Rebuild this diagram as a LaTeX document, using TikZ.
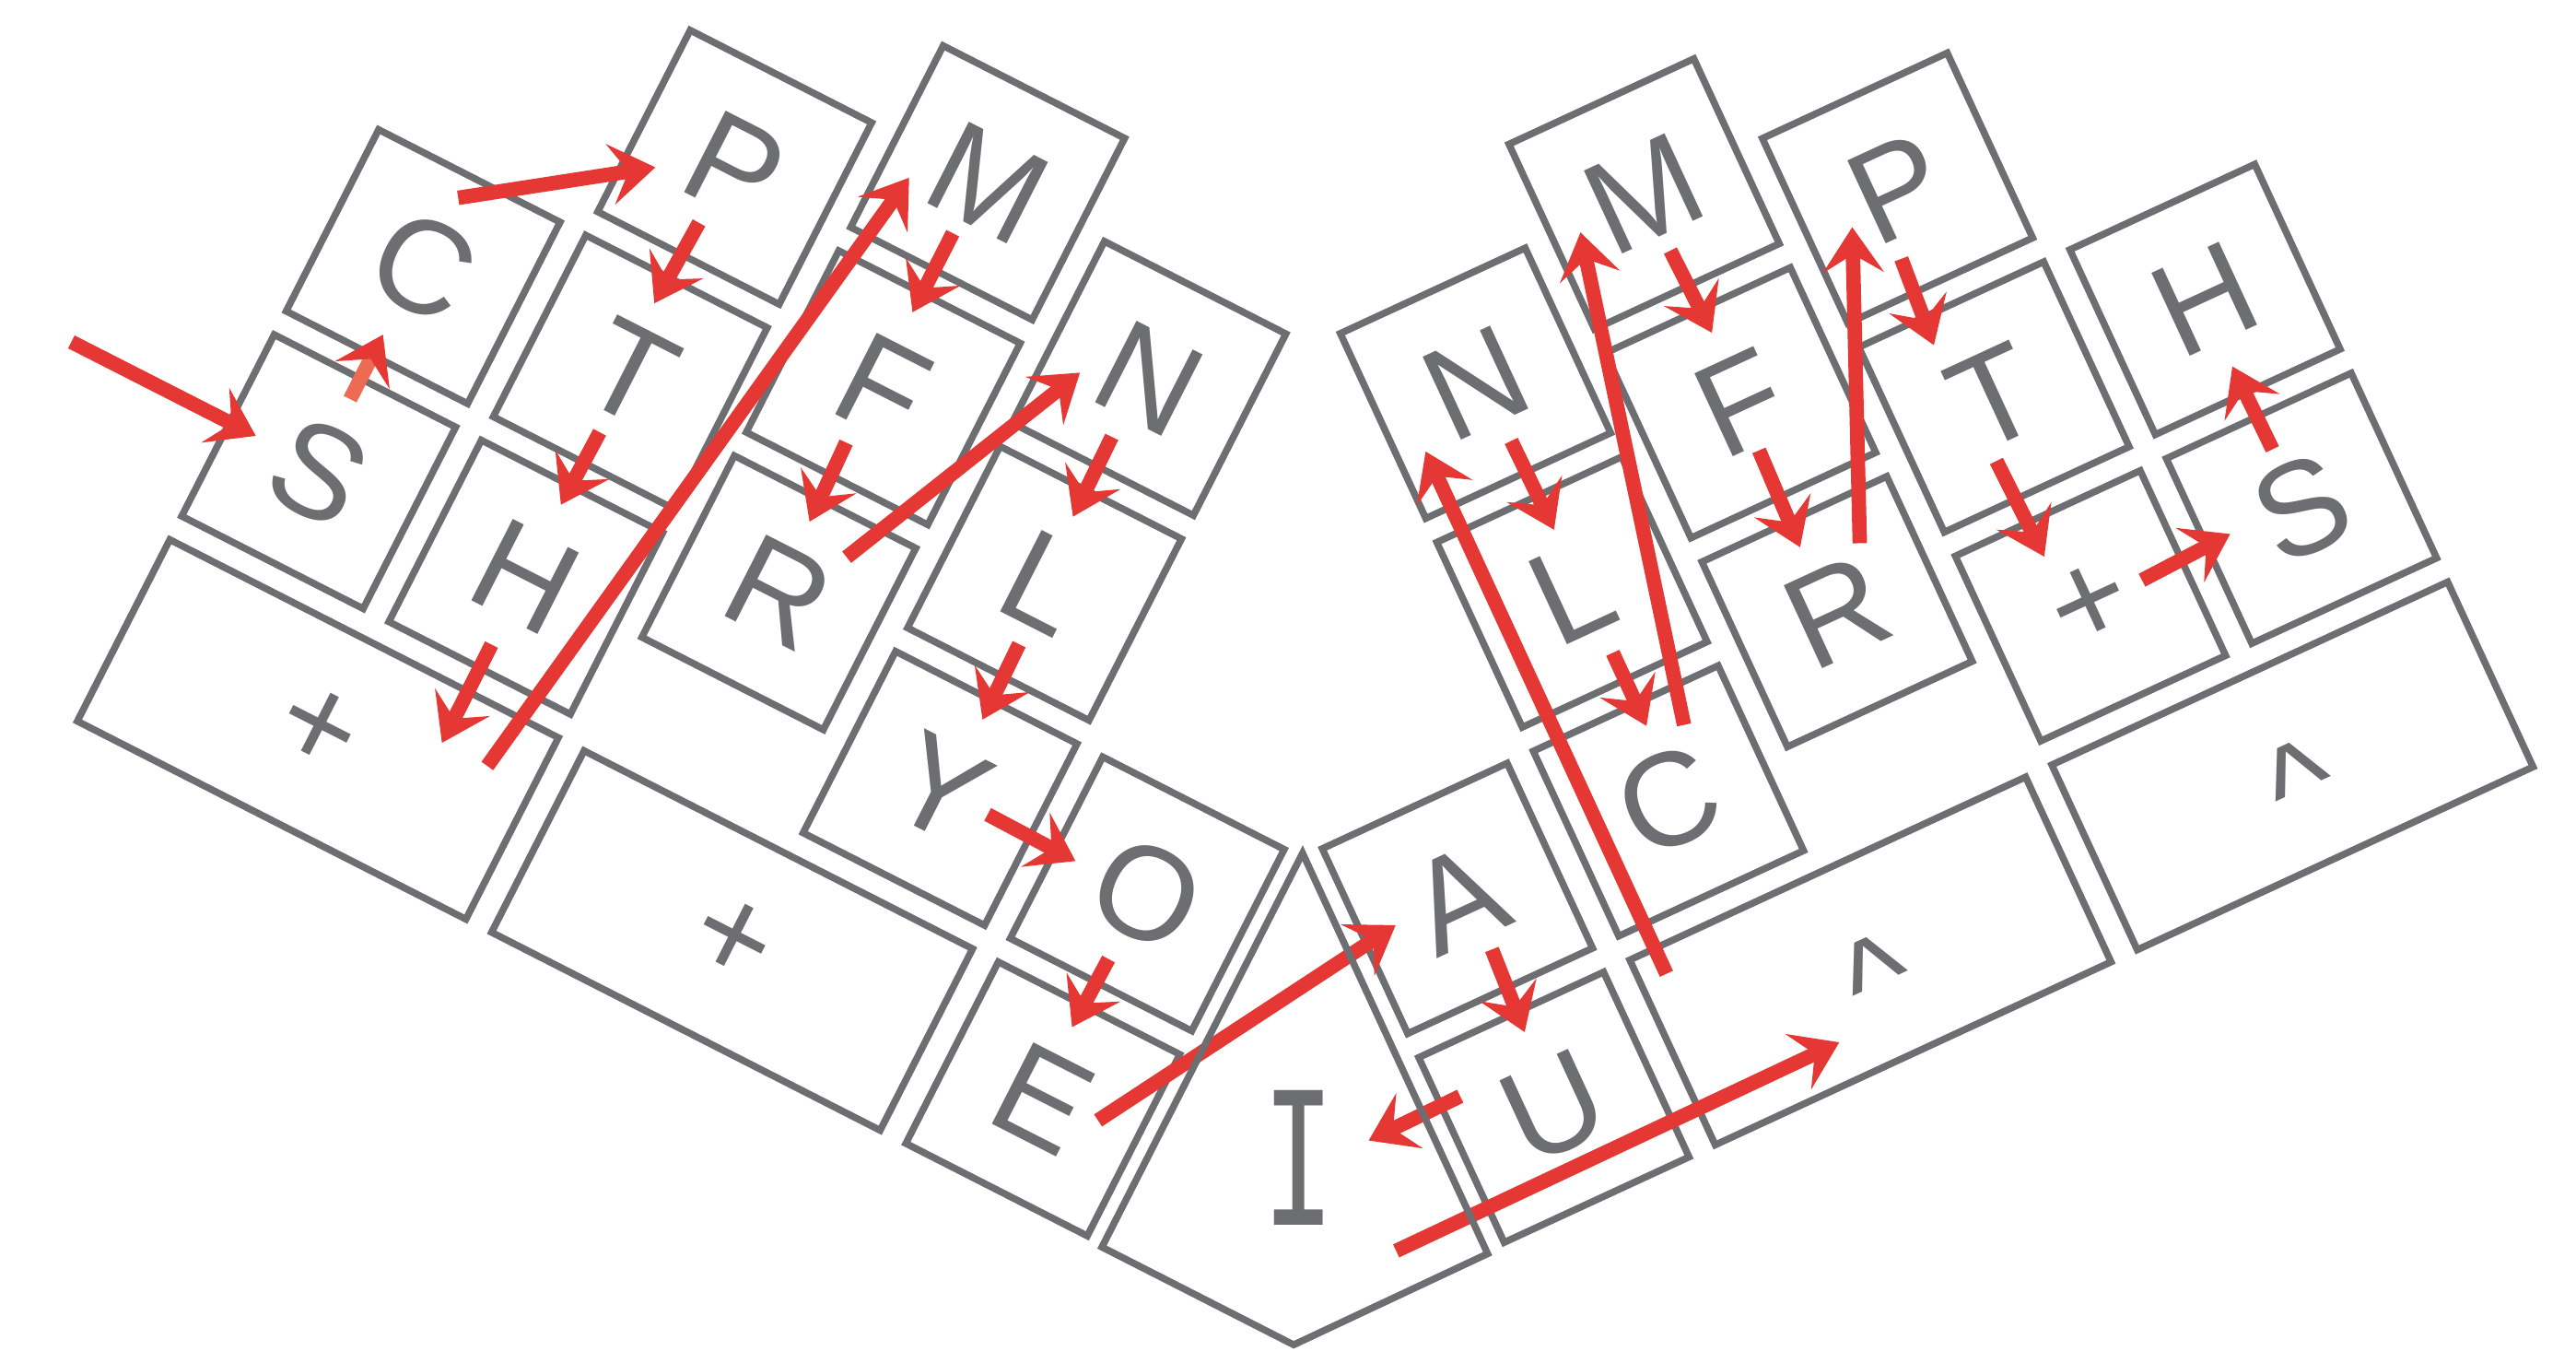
\documentclass[tikz,border=0pt]{standalone}
\usepackage{fontspec}
\setmainfont{Liberation Sans}
\newfontfamily\keymono{DejaVu Sans Mono}
\usetikzlibrary{arrows.meta,calc}
\definecolor{keygray}{RGB}{109,110,113}
\definecolor{keyred}{RGB}{229,55,51}
\definecolor{keysalmon}{RGB}{236,107,82}
\begin{document}
\begin{tikzpicture}[
x=0.02cm, y=0.02cm,
key/.style={
draw=keygray,
line width=2.4pt,
minimum width=2.48cm,
minimum height=2.48cm,
inner sep=0pt,
text=keygray,
font=\fontsize{46}{50}\selectfont
},
widekey/.style={key, minimum width=5.31cm},
arr/.style={
draw=keyred,
line width=5pt,
-{Stealth[length=0.55cm,width=0.74cm,inset=0.22cm,color=keyred]}
}
]
\useasboundingbox (0,0) rectangle (1568,-829);

\begin{scope}[shift={(194,-287)}, rotate=-27, transform shape]
\node[key] (lS) at (0,0) {S};
\node[key] (lC) at (0,140) {C};
\node[key] (lH) at (141.5,0) {H};
\node[key] (lT) at (141.5,140) {T};
\node[key] (lP) at (141.5,280) {P};
\node[key] (lR) at (283,61.5) {R};
\node[key] (lF) at (283,201.5) {F};
\node[key] (lM) at (283,341.5) {M};
\node[key] (lY) at (424.5,0) {Y};
\node[key] (lL) at (424.5,140) {L};
\node[key] (lN) at (424.5,280) {N};
\node[key] (lO) at (566,0) {O};
\node[key] (lE) at (566,-140) {E};
\node[widekey] (lplus1) at (70.75,-140) {+};
\node[widekey] (lplus2) at (353.75,-140) {+};
\coordinate (Ileft) at (639,-204);
\coordinate (Ileftup) at (639,100);
\coordinate (Ibot) at (770,-204);

\draw[arr] ($(lS)+(-170,2)$) -- ($(lS)+(-44,2)$);
\draw[arr, draw=keysalmon] ($(lS)+(-3,48)$) -- ($(lC)+(-3,-48)$);
\draw[arr] ($(lC)+(0,47)$) -- ($(lP)+(-43,-22)$);
\draw[arr] ($(lP)+(-4,-40)$) -- ($(lT)+(-6,44)$);
\draw[arr] ($(lT)+(0,-41)$) -- ($(lH)+(-1,49)$);
\draw[arr] ($(lH)+(0,-46)$) -- ($(lplus1)+(71,27)$);
\draw[arr] ($(lplus1)+(102,27)$) -- ($(lM)+(-44,-19)$);
\draw[arr] ($(lM)+(-5,-37)$) -- ($(lF)+(-5,49)$);
\draw[arr] ($(lF)+(-5,-40)$) -- ($(lR)+(-3,47)$);
\draw[arr] ($(lR)+(27,38)$) -- ($(lN)+(-39,-16)$);
\draw[arr] ($(lN)+(-4,-42)$) -- ($(lL)+(-3,44)$);
\draw[arr] ($(lL)+(3,-40)$) -- ($(lY)+(4,49)$);
\draw[arr] ($(lY)+(33,-1)$) -- ($(lO)+(-48,-2)$);
\draw[arr] ($(lO)+(-3,-46)$) -- ($(lE)+(-4,47)$);
\end{scope}

\node[text=keygray, font=\keymono\fontsize{64}{70}\selectfont] (I) at (790.7,-704.8) {\scalebox{0.65}[1]{I}};

\begin{scope}[shift={(1400.9,-309.3)}, rotate=24.8, transform shape]
\node[key] (rS) at (0,0) {S};
\node[key] (rH) at (0,140) {H};
\node[key] (rplus) at (-141.5,0) {+};
\node[key] (rT) at (-141.5,140) {T};
\node[key] (rP) at (-141.5,280) {P};
\node[key] (rR) at (-283,61.5) {R};
\node[key] (rF) at (-283,201.5) {F};
\node[key] (rM) at (-283,341.5) {M};
\node[key] (rC) at (-424.5,0) {C};
\node[key] (rL) at (-424.5,140) {L};
\node[key] (rN) at (-424.5,280) {N};
\node[key] (rA) at (-566,0) {A};
\node[key] (rU) at (-566,-140) {U};
\node[widekey] (rhat1) at (-70.75,-140) {\raisebox{-0.52em}[0pt][0pt]{\textasciicircum}};
\node[widekey] (rhat2) at (-353.75,-140) {\raisebox{-0.52em}[0pt][0pt]{\textasciicircum}};
\coordinate (Iright) at (-640,-204);
\coordinate (Irightup) at (-640,100);

\draw[arr] ($(lE)+(25,-26)$) -- ($(rA)+(-41,1)$);
\draw[arr] ($(rA)+(6,-37)$) -- ($(rU)+(3,49)$);
\draw[arr] ($(rU)+(-49,30)$) -- ($(I)+(43,-8)$);
\draw[arr] ($(I)+(30,-76)$) -- ($(rhat2)+(-38,-37)$);
\draw[arr] ($(rhat2)+(-116,45)$) -- ($(rN)+(-45,-25)$);
\draw[arr] ($(rN)+(5,-41)$) -- ($(rL)+(6,39)$);
\draw[arr] ($(rL)+(7,-44)$) -- ($(rC)+(7,47)$);
\draw[arr] ($(rC)+(28,38)$) -- ($(rM)+(-45,-5)$);
\draw[arr] ($(rM)+(0,-38)$) -- ($(rF)+(2,46)$);
\draw[arr] ($(rF)+(-2,-31)$) -- ($(rR)+(-4,45)$);
\draw[arr] ($(rR)+(30,32)$) -- ($(rP)+(-35,-10)$);
\draw[arr] ($(rP)+(-16,-40)$) -- ($(rT)+(-20,44)$);
\draw[arr] ($(rT)+(-15,-36)$) -- ($(rplus)+(-13,39)$);
\draw[arr] ($(rplus)+(35,1)$) -- ($(rS)+(-46,4)$);
\draw[arr] ($(rS)+(-1,40)$) -- ($(rH)+(-2,-44)$);
\end{scope}

\draw[draw=keygray, line width=2.4pt] (Ileft) -- (intersection of Ileft--Ileftup and Iright--Irightup) -- (Iright) -- (Ibot) -- cycle;

\end{tikzpicture}
\end{document}
